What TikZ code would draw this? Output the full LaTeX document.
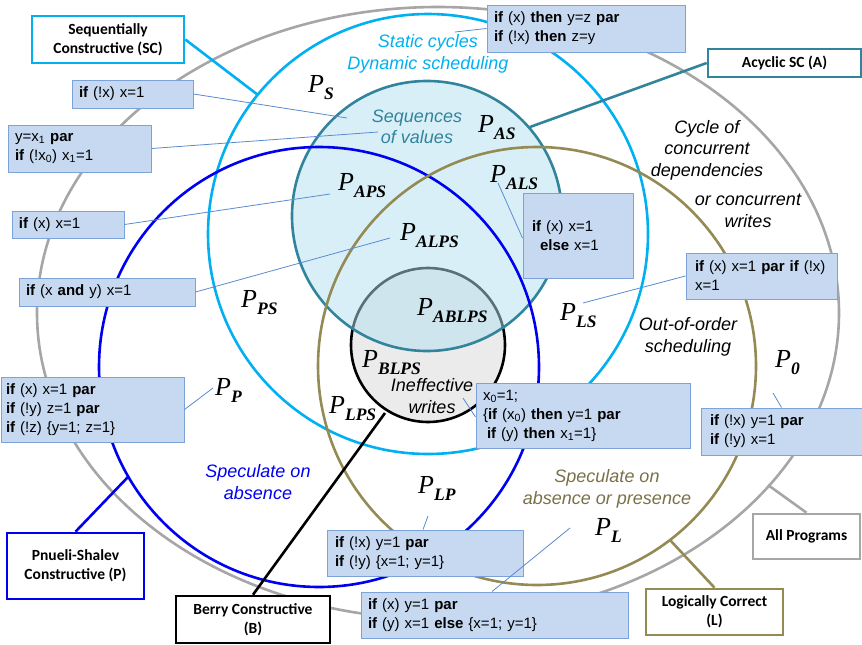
\documentclass[tikz,border=0pt]{standalone}
\usepackage{fontspec}
\setmainfont{Liberation Sans}
\newfontfamily\calfont{Carlito}
\newfontfamily\tmsfont{Liberation Serif}
\definecolor{sccyan}{HTML}{00B0F0}
\definecolor{acteal}{HTML}{31849B}
\definecolor{pblue}{HTML}{0000F0}
\definecolor{lolive}{HTML}{948A54}
\definecolor{lolivetext}{HTML}{7A7048}
\definecolor{allgray}{HTML}{A6A6A6}
\definecolor{cfill}{HTML}{C6D9F1}
\definecolor{cbord}{HTML}{7BA3DA}
\definecolor{cline}{HTML}{5A8AD0}
\definecolor{tealfill}{HTML}{B3E0F0}
\definecolor{berryfill}{HTML}{EBEBEB}
\newcommand{\plab}[1]{{\tmsfont\itshape\fontsize{26}{26}\selectfont P}\raisebox{-7pt}{\tmsfont\bfseries\itshape\fontsize{17.5}{17.5}\selectfont #1}}
\tikzset{
  codebox/.style={draw=cbord, fill=cfill, line width=1pt, inner xsep=7pt, inner ysep=0pt, align=left, font=\fontsize{15}{19}\selectfont},
  labbox/.style={fill=white, line width=2.6pt, inner sep=0pt, align=center, font=\calfont\bfseries\fontsize{15.5}{19}\selectfont},
  thinconn/.style={draw=cline, line width=0.8pt},
  labconn/.style={line width=2.6pt},
  itext/.style={font=\itshape\fontsize{18}{21.5}\selectfont, align=center, inner sep=0pt},
  plabel/.style={anchor=base west, inner sep=0pt},
  ring/.style={line width=2.6pt}
}
\begin{document}
\begin{tikzpicture}[x=1pt,y=-1pt]
\useasboundingbox (0,0) rectangle (862,645);
% sets
\draw[ring, fill=berryfill, draw=black] (428,345) circle [radius=77pt];
\fill[tealfill, fill opacity=0.5] (427,216) circle [radius=135pt];
\draw[ring, draw=acteal] (427,216) circle [radius=135pt];
\draw[ring, draw=allgray] (438,313) ellipse [x radius=401pt, y radius=306pt];
\draw[ring, draw=sccyan] (428,234) circle [radius=220pt];
\draw[ring, draw=pblue] (319,367) circle [radius=220pt];
\draw[ring, draw=lolive] (537,366) circle [radius=219pt];

% label boxes
\node[labbox, draw=sccyan, minimum width=152pt, minimum height=47pt] (lA) at (108,39.5) {Sequentially\\Constructive (SC)};
\node[labbox, draw=acteal, minimum width=153pt, minimum height=28pt] (lB) at (784.5,63) {Acyclic SC (A)};
\node[labbox, draw=pblue, minimum width=137pt, minimum height=66pt] (lC) at (75.5,566) {Pnueli-Shalev\\Constructive (P)};
\node[labbox, draw=black, minimum width=154pt, minimum height=47pt] (lD) at (253,619.5) {Berry Constructive\\(B)};
\node[labbox, draw=lolive, minimum width=137pt, minimum height=46pt] (lE) at (714.5,612) {Logically Correct\\(L)};
\node[labbox, draw=allgray, minimum width=107pt, minimum height=45pt] (lF) at (806.5,536.5) {All Programs};

\coordinate (eA) at (258,95);
\coordinate (eB) at (530,127);
\coordinate (eC) at (128,477);
\coordinate (eD) at (385,413);
\coordinate (eE) at (670,540);
\coordinate (eF) at (768,485);
\draw[labconn, sccyan] (lA.east) -- (eA);
\draw[labconn, acteal] (lB.west) -- (eB);
\draw[labconn, pblue] (lC.north) -- (eC);
\draw[labconn, black] (lD.north) -- (eD);
\draw[labconn, lolive] (lE.north) -- (eE);
\draw[labconn, allgray] (lF.north) -- (eF);

% code boxes
\node[codebox, text width=184pt, minimum height=47pt] (c1) at (586,28.5) {\textbf{if} (x) \textbf{then} y=z \textbf{par}\\\textbf{if} (!x) \textbf{then} z=y};
\node[codebox, text width=107pt, minimum height=28pt] (c2) at (132.5,94) {\textbf{if} (!x) x=1};
\node[codebox, text width=129pt, minimum height=47pt] (c3) at (79.5,148.5) {y=x\textsubscript{1} \textbf{par}\\\textbf{if} (!x\textsubscript{0}) x\textsubscript{1}=1};
\node[codebox, text width=98pt, minimum height=27pt] (c4) at (68,224.5) {\textbf{if} (x) x=1};
\node[codebox, text width=162pt, minimum height=28pt] (c5) at (107,292) {\textbf{if} (x \textbf{and} y) x=1};
\node[codebox, inner xsep=5pt, text width=173pt, minimum height=65pt] (c6) at (92.5,409.5) {\textbf{if} (x) x=1 \textbf{par}\\\textbf{if} (!y) z=1 \textbf{par}\\\textbf{if} (!z) \{y=1; z=1\}};
\node[codebox, inner xsep=9pt, text width=92pt, minimum height=85pt] (c7) at (578,235.5) {\textbf{if} (x) x=1\\\hspace*{8pt}\textbf{else} x=1};
\node[codebox, inner xsep=9pt, text width=133pt, minimum height=46pt] (c8) at (761.5,276) {\textbf{if} (x) x=1 \textbf{par if} (!x)\\x=1};
\node[codebox, text width=200pt, minimum height=65pt] (c9) at (583,415.5) {x\textsubscript{0}=1;\\\{\textbf{if} (x\textsubscript{0}) \textbf{then} y=1 \textbf{par}\\\hspace*{4pt}\textbf{if} (y) \textbf{then} x\textsubscript{1}=1\}};
\node[codebox, inner xsep=9pt, text width=143pt, minimum height=47pt] (c10) at (781.5,431.5) {\textbf{if} (!x) y=1 \textbf{par}\\\textbf{if} (!y) x=1};
\node[codebox, inner xsep=8pt, text width=180pt, minimum height=46pt] (c11) at (425,553) {\textbf{if} (!x) y=1 \textbf{par}\\\textbf{if} (!y) \{x=1; y=1\}};
\node[codebox, text width=253pt, minimum height=46pt] (c12) at (494.5,615) {\textbf{if} (x) y=1 \textbf{par}\\\textbf{if} (y) x=1 \textbf{else} \{x=1; y=1\}};

\coordinate (t1) at (455,32);
\coordinate (t2) at (347,118);
\coordinate (t3) at (378,132);
\coordinate (t4) at (330,194);
\coordinate (t5) at (390,238);
\coordinate (t6) at (213,388);
\coordinate (t7) at (498,183);
\coordinate (t8) at (583,303);
\coordinate (t9) at (463,398);
\coordinate (t10) at (773,393);
\coordinate (t11) at (428,516);
\coordinate (t12) at (570,528);
\draw[thinconn] (c1.west) -- (t1);
\draw[thinconn] (c2.east) -- (t2);
\draw[thinconn] (c3.east) -- (t3);
\draw[thinconn] (c4.east) -- (t4);
\draw[thinconn] (c5.east) -- (t5);
\draw[thinconn] (c6.east) -- (t6);
\draw[thinconn] ([yshift=-2.5pt]c7.west) -- (t7);
\draw[thinconn] (c8.west) -- (t8);
\draw[thinconn] ([yshift=-1.5pt]c9.west) -- (t9);
\draw[thinconn] (c10.north) -- (t10);
\draw[thinconn] ([xshift=-2pt]c11.north) -- (t11);
\draw[thinconn] ([xshift=-2.5pt]c12.north) -- (t12);

% italic texts
\node[itext, text=sccyan] (tsc) at (428,54) {Static cycles\\Dynamic scheduling};
\node[itext, text=acteal] (tseq) at (417,127) {Sequences\\of values};
\node[itext] (tcyc) at (707,150) {Cycle of\\concurrent\\dependencies};
\node[itext] (tor) at (748,211) {or concurrent\\writes};
\node[itext] (tooo) at (688,337) {Out-of-order\\scheduling};
\node[itext] (tine) at (432,396) {Ineffective\\writes};
\node[itext, text=pblue] (tspa) at (258,482) {Speculate on\\absence};
\node[itext, text=lolivetext] (tspl) at (607,489) {Speculate on\\absence or presence};

% set labels
\node[plabel] (pS) at (308,92) {\plab{S}};
\node[plabel] (pAS) at (478,132) {\plab{AS}};
\node[plabel] (pALS) at (490,182) {\plab{ALS}};
\node[plabel] (pAPS) at (338,190) {\plab{APS}};
\node[plabel] (pALPS) at (400,240) {\plab{ALPS}};
\node[plabel] (pABLPS) at (417,315) {\plab{ABLPS}};
\node[plabel] (pBLPS) at (362,367) {\plab{BLPS}};
\node[plabel] (pLPS) at (329,413) {\plab{LPS}};
\node[plabel] (pPS) at (241,307) {\plab{PS}};
\node[plabel] (pP) at (215,395) {\plab{P}};
\node[plabel] (pLS) at (560,320) {\plab{LS}};
\node[plabel] (pLP) at (418,493) {\plab{LP}};
\node[plabel] (pL) at (595,535) {\plab{L}};
\node[plabel] (p0) at (775,367) {\plab{0}};
\end{tikzpicture}
\end{document}
